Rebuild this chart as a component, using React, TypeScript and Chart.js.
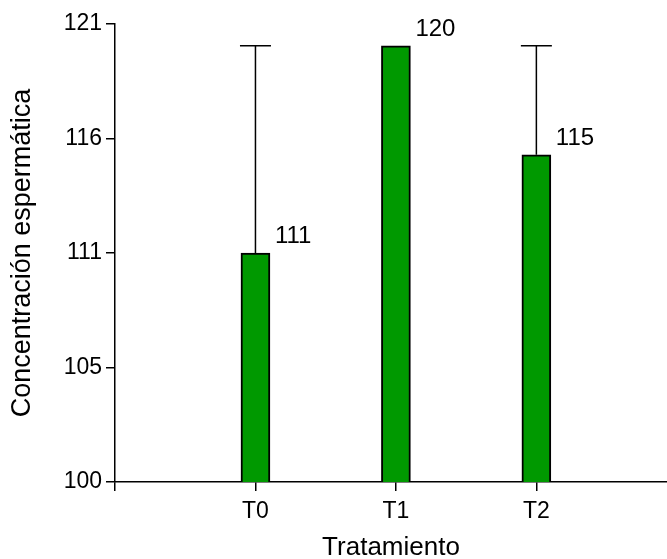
import React, { useEffect, useRef } from 'react';
import { Chart, registerables } from 'chart.js';

Chart.register(...registerables);

// Treatment groups and their mean sperm concentration
const categories = ['T0', 'T1', 'T2'];
const categoryPositions = [1, 2, 3];
const means = [110.5, 120, 115];
// Upper error (added on top of each mean); 0 means no whisker
const upperErrors = [9.5, 0, 5];

// Y axis ticks and their printed (rounded) labels
const yTickValues = [100, 105.25, 110.5, 115.75, 121];
const yTickLabels = ['100', '105', '111', '116', '121'];
const xTickValues = [0, 1, 2, 3];

const FONT = "'Liberation Sans', Arial, Helvetica, sans-serif";

const barAnnotations = {
  id: 'barAnnotations',
  afterDatasetsDraw(chart: any) {
    const { ctx } = chart;
    const meta = chart.getDatasetMeta(0);
    const yScale = chart.scales.y;
    ctx.save();
    meta.data.forEach((bar: any, i: number) => {
      const { x, y, width } = bar.getProps(['x', 'y', 'width'], true);
      const err = upperErrors[i];
      if (err > 0) {
        const yTop = yScale.getPixelForValue(means[i] + err);
        ctx.strokeStyle = '#000';
        ctx.lineWidth = 1.5;
        ctx.beginPath();
        ctx.moveTo(x, y);
        ctx.lineTo(x, yTop);
        ctx.moveTo(x - 15.5, yTop);
        ctx.lineTo(x + 15.5, yTop);
        ctx.stroke();
      }
      ctx.fillStyle = '#000';
      ctx.font = `24px ${FONT}`;
      ctx.textAlign = 'left';
      ctx.textBaseline = 'alphabetic';
      ctx.fillText(String(Math.round(means[i])), x + width / 2 + 5, y - 10);
    });
    ctx.restore();
  },
};

export default function App() {
  const canvasRef = useRef<HTMLCanvasElement>(null);

  useEffect(() => {
    document.body.style.margin = '0';
    const canvas = canvasRef.current;
    if (!canvas) return;

    const chart = new Chart(canvas, {
      type: 'bar',
      data: {
        datasets: [
          {
            data: categoryPositions.map((x, i) => ({ x, y: means[i] })),
            backgroundColor: '#009900',
            borderColor: '#000',
            borderWidth: 2,
            barThickness: 29,
          },
        ],
      },
      plugins: [barAnnotations],
      options: {
        animation: false,
        responsive: false,
        layout: { padding: { top: 24, right: 0, bottom: 0, left: 0 } },
        plugins: {
          legend: { display: false },
          tooltip: { enabled: false },
        },
        scales: {
          x: {
            type: 'linear',
            min: 0,
            max: 3.93,
            offset: false,
            afterBuildTicks: (s: any) => {
              s.ticks = xTickValues.map((v) => ({ value: v }));
            },
            afterFit: (s: any) => {
              s.height = 77;
            },
            ticks: {
              autoSkip: false,
              maxRotation: 0,
              padding: 7,
              color: '#000',
              font: { family: FONT, size: 23 },
              callback: (v: any) => {
                const i = categoryPositions.indexOf(Number(v));
                return i >= 0 ? categories[i] : '';
              },
            },
            grid: {
              offset: false,
              drawOnChartArea: false,
              drawTicks: true,
              tickLength: 9,
              color: '#000',
              lineWidth: 1.5,
            },
            border: { display: true, color: '#000', width: 1.5 },
            title: {
              display: true,
              text: 'Tratamiento',
              color: '#000',
              font: { family: FONT, size: 26, lineHeight: 0.85 },
              padding: 0,
            },
          },
          y: {
            type: 'linear',
            min: 100,
            max: 121,
            afterBuildTicks: (s: any) => {
              s.ticks = yTickValues.map((v) => ({ value: v }));
            },
            afterFit: (s: any) => {
              s.width = 115;
            },
            ticks: {
              autoSkip: false,
              padding: 4,
              color: '#000',
              font: { family: FONT, size: 23 },
              callback: (v: any) => {
                const i = yTickValues.indexOf(Number(v));
                return i >= 0 ? yTickLabels[i] : '';
              },
            },
            grid: {
              drawOnChartArea: false,
              drawTicks: true,
              tickLength: 9,
              color: '#000',
              lineWidth: 1.5,
            },
            border: { display: true, color: '#000', width: 1.5 },
            title: {
              display: true,
              text: 'Concentración espermática',
              color: '#000',
              font: { family: FONT, size: 27, lineHeight: 1 },
              padding: { top: 9.5, bottom: 0 },
            },
          },
        },
      },
    } as any);

    return () => chart.destroy();
  }, []);

  return (
    <div style={{ width: 667, height: 559 }}>
      <canvas ref={canvasRef} width={667} height={559} style={{ display: 'block' }} />
    </div>
  );
}
